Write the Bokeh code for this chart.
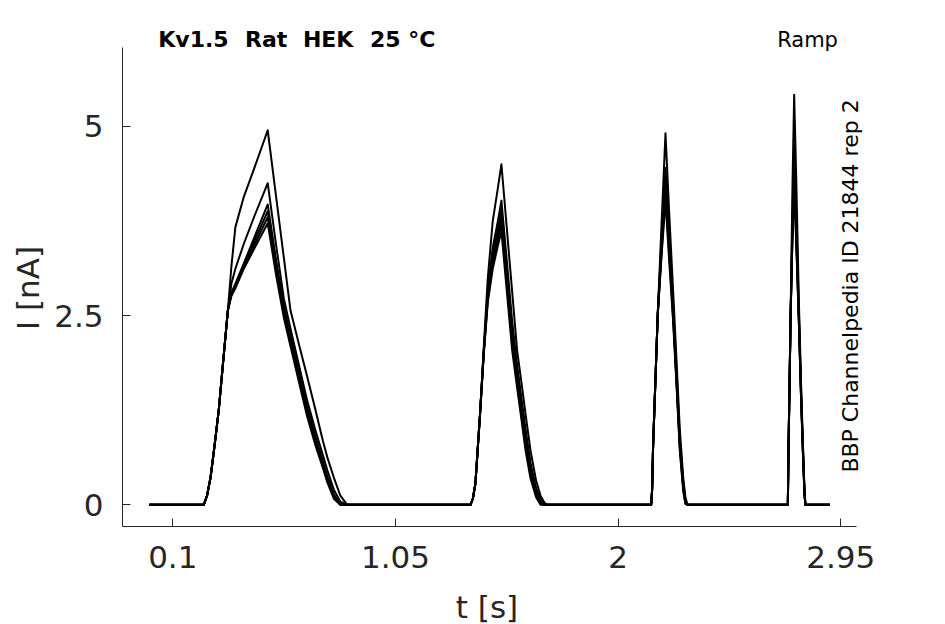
import numpy as np
from bokeh.plotting import figure
from bokeh.models import Range1d, FixedTicker, Label, NumeralTickFormatter
from bokeh.embed import file_html
from bokeh.resources import INLINE

# ---------------- data ----------------
x_ticks = [0.1, 1.05, 2.0, 2.95]
y_ticks = [0.0, 2.5, 5.0]

t_first = 0.0
t_last = 2.903

# ramp 1 (slowest)
t_ramp1 = [0.232, 0.246, 0.261, 0.278, 0.296, 0.315, 0.335, 0.350, 0.367, 0.403, 0.450, 0.505,
           0.540, 0.574, 0.602, 0.640, 0.673, 0.709, 0.740, 0.759, 0.787, 0.815, 0.844]
ramp1_I = [
    [0, 0.12, 0.36, 0.78, 1.25, 1.90, 2.57, 3.15, 3.67, 4.07, 4.47, 4.95,
     4.09, 3.26, 2.57, 2.10, 1.70, 1.25, 0.85, 0.63, 0.36, 0.12, 0.0],
    [0, 0.12, 0.36, 0.78, 1.25, 1.90, 2.57, 2.92, 3.12, 3.45, 3.83, 4.25,
     3.45, 2.72, 2.33, 1.82, 1.38, 0.98, 0.66, 0.46, 0.20, 0.04, 0.0],
    [0, 0.12, 0.36, 0.78, 1.25, 1.90, 2.57, 2.80, 2.92, 3.19, 3.55, 3.97,
     3.25, 2.62, 2.24, 1.73, 1.30, 0.90, 0.58, 0.38, 0.14, 0.01, 0.0],
    [0, 0.12, 0.36, 0.78, 1.25, 1.90, 2.57, 2.80, 2.91, 3.17, 3.50, 3.88,
     3.18, 2.57, 2.20, 1.69, 1.25, 0.86, 0.55, 0.36, 0.12, 0.0, 0.0],
    [0, 0.12, 0.36, 0.78, 1.25, 1.90, 2.57, 2.78, 2.89, 3.15, 3.45, 3.80,
     3.12, 2.52, 2.15, 1.65, 1.21, 0.82, 0.52, 0.33, 0.10, 0.0, 0.0],
    [0, 0.12, 0.36, 0.78, 1.25, 1.90, 2.57, 2.76, 2.86, 3.12, 3.40, 3.72,
     3.05, 2.47, 2.10, 1.60, 1.17, 0.78, 0.49, 0.30, 0.08, 0.0, 0.0],
]

# ramp 2
t_ramp2 = [1.370, 1.380, 1.391, 1.410, 1.427, 1.444, 1.465, 1.485, 1.502,
           1.520, 1.548, 1.569, 1.590, 1.605, 1.626, 1.650, 1.669, 1.685, 1.697]
ramp2_I = [
    [0, 0.08, 0.28, 1.16, 2.10, 3.00, 3.75, 4.15, 4.50,
     3.84, 2.81, 2.04, 1.56, 1.20, 0.72, 0.32, 0.12, 0.03, 0.0],
    [0, 0.08, 0.28, 1.16, 2.04, 2.85, 3.40, 3.72, 4.02,
     3.40, 2.42, 1.85, 1.35, 1.00, 0.56, 0.22, 0.07, 0.01, 0.0],
    [0, 0.08, 0.28, 1.16, 2.04, 2.80, 3.30, 3.62, 3.90,
     3.28, 2.30, 1.75, 1.26, 0.92, 0.50, 0.18, 0.05, 0.0, 0.0],
    [0, 0.08, 0.28, 1.16, 2.03, 2.75, 3.24, 3.55, 3.82,
     3.18, 2.20, 1.68, 1.18, 0.85, 0.45, 0.15, 0.03, 0.0, 0.0],
    [0, 0.08, 0.28, 1.16, 2.02, 2.72, 3.18, 3.47, 3.72,
     3.10, 2.12, 1.61, 1.12, 0.78, 0.40, 0.12, 0.01, 0.0, 0.0],
    [0, 0.08, 0.28, 1.16, 2.00, 2.68, 3.12, 3.40, 3.62,
     3.00, 2.04, 1.55, 1.07, 0.72, 0.35, 0.10, 0.0, 0.0, 0.0],
]

# ramp 3
t_ramp3 = [2.141, 2.145, 2.149, 2.169, 2.185, 2.202, 2.218, 2.235, 2.250, 2.263, 2.278, 2.287, 2.296]
ramp3_I = [
    [0, 0.20, 0.76, 2.52, 3.70, 4.91, 3.85, 2.80, 1.85, 1.00, 0.35, 0.10, 0.0],
    [0, 0.20, 0.76, 2.52, 3.50, 4.45, 3.55, 2.62, 1.70, 0.88, 0.28, 0.06, 0.0],
    [0, 0.20, 0.76, 2.52, 3.42, 4.32, 3.45, 2.55, 1.64, 0.83, 0.25, 0.04, 0.0],
    [0, 0.20, 0.76, 2.52, 3.38, 4.22, 3.38, 2.50, 1.60, 0.80, 0.22, 0.03, 0.0],
    [0, 0.20, 0.76, 2.52, 3.33, 4.12, 3.30, 2.45, 1.56, 0.76, 0.20, 0.02, 0.0],
    [0, 0.20, 0.76, 2.52, 3.28, 4.02, 3.22, 2.40, 1.52, 0.72, 0.18, 0.01, 0.0],
]

# ramp 4 (fastest)
t_ramp4 = [2.724, 2.727, 2.736, 2.744, 2.751, 2.760, 2.771, 2.780, 2.788, 2.795, 2.799]
ramp4_I = [
    [0, 0.76, 2.52, 4.25, 5.42, 4.30, 2.70, 1.65, 0.85, 0.20, 0.0],
    [0, 0.76, 2.52, 3.85, 4.75, 3.80, 2.55, 1.55, 0.78, 0.18, 0.0],
    [0, 0.76, 2.52, 3.70, 4.50, 3.62, 2.50, 1.50, 0.76, 0.16, 0.0],
    [0, 0.76, 2.52, 3.65, 4.40, 3.55, 2.47, 1.48, 0.74, 0.15, 0.0],
    [0, 0.76, 2.52, 3.60, 4.32, 3.50, 2.44, 1.46, 0.72, 0.14, 0.0],
    [0, 0.76, 2.52, 3.55, 4.22, 3.44, 2.40, 1.44, 0.70, 0.13, 0.0],
]

title_words = ["Kv1.5", "Rat", "HEK", "25 °C"]
protocol_text = "Ramp"
source_text = "BBP Channelpedia ID 21844 rep 2"
x_label = "t [s]"
y_label = "I [nA]"

# ---------------- figure ----------------
FONT = "DejaVu Sans"
GREY = "#262626"

X0, X1 = -0.1146, 3.019     # drawn extent of the axes
Y0, Y1 = -0.287, 6.04

# the frame covers the whole canvas; axes sit at fixed data locations
p = figure(width=929, height=624,
           x_range=Range1d(-0.6351, 3.3284), y_range=Range1d(-1.582, 6.665),
           output_backend="svg", toolbar_location=None,
           min_border_left=0, min_border_right=0,
           min_border_top=0, min_border_bottom=0)
p.outline_line_color = None
p.xgrid.visible = False
p.ygrid.visible = False

t_all = [t_first] + t_ramp1 + t_ramp2 + t_ramp3 + t_ramp4 + [t_last]
for k in range(len(ramp1_I)):
    i_all = [0.0] + ramp1_I[k] + ramp2_I[k] + ramp3_I[k] + ramp4_I[k] + [0.0]
    p.line(t_all, i_all, line_color="black", line_width=2, line_join="round")

p.xaxis.ticker = FixedTicker(ticks=x_ticks)
p.yaxis.ticker = FixedTicker(ticks=y_ticks)
p.xaxis.bounds = (X0, X1)
p.yaxis.bounds = (Y0, Y1)
p.xaxis.fixed_location = Y0
p.yaxis.fixed_location = X0
for ax in (p.xaxis[0], p.yaxis[0]):
    ax.formatter = NumeralTickFormatter(format="0.[00]")
    ax.major_tick_in = 8
    ax.major_tick_out = 0
    ax.minor_tick_in = 0
    ax.minor_tick_out = 0
    ax.axis_line_color = GREY
    ax.major_tick_line_color = GREY
    ax.major_label_text_font = FONT
    ax.major_label_text_font_size = "31px"
    ax.major_label_text_color = GREY
    ax.major_label_standoff = 19

lab = dict(text_font=FONT, text_color=GREY, text_font_size="31px")
p.add_layout(Label(x=1.4405, y=-1.348, text=x_label, text_align="center",
                   text_baseline="middle", **lab))
p.add_layout(Label(x=-0.5199, y=2.8655, text=y_label, angle=np.pi / 2,
                   text_align="center", text_baseline="middle", **lab))

title_x = [0.038, 0.408, 0.655, 0.941]
for word, wx in zip(title_words, title_x):
    p.add_layout(Label(x=wx, y=6.149, text=word, text_font=FONT,
                       text_font_style="bold", text_font_size="22px",
                       text_color="black", text_align="left",
                       text_baseline="middle"))
p.add_layout(Label(x=2.808, y=6.147, text=protocol_text, text_font=FONT,
                   text_font_size="21px", text_color="black",
                   text_align="center", text_baseline="middle"))
p.add_layout(Label(x=2.990, y=2.892, text=source_text, text_font=FONT,
                   text_font_size="22px", text_color="black", angle=np.pi / 2,
                   text_align="center", text_baseline="middle"))

open("out.html", "w").write(file_html(p, INLINE))
